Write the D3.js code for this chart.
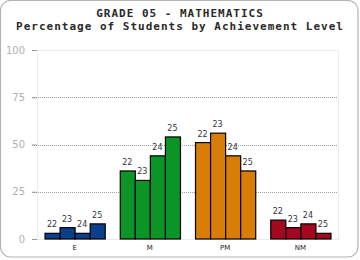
<!DOCTYPE html>
<html>
<head>
<meta charset="utf-8">
<script src="https://cdn.jsdelivr.net/npm/d3@7"></script>
<style>
  body { margin: 0; background: #fff; }
  svg { display: block; }
</style>
</head>
<body>
<div id="chart"></div>
<script>
const levels = ['E', 'M', 'PM', 'NM'];
const years = ['22', '23', '24', '25'];
const levelColors = ['#0b3f8c', '#0a9526', '#d97c08', '#a5071f'];
const pctE = [3, 6, 3, 8];
const pctM = [36, 31, 44, 54];
const pctPM = [51, 56, 44, 36];
const pctNM = [10, 6, 8, 3];
const yTicks = [0, 25, 50, 75, 100];
const titleLines = ['GRADE 05 - MATHEMATICS', 'Percentage of Students by Achievement Level'];

const seriesByLevel = [pctE, pctM, pctPM, pctNM];
const rows = [];
levels.forEach((lv, i) => {
  years.forEach((yr, j) => rows.push({ level: lv, year: yr, value: seriesByLevel[i][j], color: levelColors[i] }));
});

const width = 360, height = 260;
const margin = { top: 50, right: 22, bottom: 21, left: 37 };

const svg = d3.select('#chart').append('svg')
  .attr('width', width)
  .attr('height', height);

// frame
svg.append('rect')
  .attr('x', 0.5).attr('y', 0.5)
  .attr('width', width - 2.5).attr('height', height - 3.5)
  .attr('rx', 10).attr('ry', 10)
  .attr('fill', '#fff')
  .attr('stroke', '#b4b4b4')
  .attr('stroke-width', 1.2);

svg.append('g').selectAll('text')
  .data(titleLines)
  .join('text')
  .attr('x', width / 2)
  .attr('y', (d, i) => 17 + i * 13)
  .attr('text-anchor', 'middle')
  .attr('font-family', '"DejaVu Sans Mono", monospace')
  .attr('font-weight', 'bold')
  .attr('font-size', 11)
  .attr('letter-spacing', 1)
  .attr('fill', '#2a2a2a')
  .text(d => d);

const x = d3.scaleBand()
  .domain(levels)
  .range([margin.left, width - margin.right])
  .paddingInner(0.2)
  .paddingOuter(0.1);

const xYear = d3.scaleBand()
  .domain(years)
  .range([0, x.bandwidth()]);

const y = d3.scaleLinear()
  .domain([0, 100])
  .range([height - margin.bottom, margin.top]);

const x0 = margin.left, x1 = width - margin.right;

// plot box
svg.append('rect')
  .attr('x', x0 + 0.5).attr('y', y(100) + 0.5)
  .attr('width', x1 - x0).attr('height', y(0) - y(100))
  .attr('fill', 'none')
  .attr('stroke', '#ececec');

// grid
svg.append('g').selectAll('line')
  .data(yTicks.filter(t => t > 0 && t < 100))
  .join('line')
  .attr('x1', x0 - 5).attr('x2', x1)
  .attr('y1', d => Math.round(y(d)) + 0.5)
  .attr('y2', d => Math.round(y(d)) + 0.5)
  .attr('stroke', '#a0a0a0')
  .attr('stroke-dasharray', '1,1');

const yAxis = svg.append('g')
  .attr('transform', `translate(${x0},0)`)
  .call(d3.axisLeft(y).tickValues(yTicks).tickSize(5).tickPadding(7));
yAxis.select('.domain').remove();
yAxis.selectAll('line').attr('stroke', '#999');
yAxis.selectAll('text')
  .attr('fill', '#b0b0b0')
  .attr('font-family', '"DejaVu Sans", sans-serif')
  .attr('font-size', 10);

// bars
const bars = svg.append('g').selectAll('g')
  .data(rows)
  .join('g')
  .attr('transform', d => `translate(${x(d.level) + xYear(d.year)},0)`);

bars.append('rect')
  .attr('x', 0.5)
  .attr('y', d => y(d.value))
  .attr('width', xYear.bandwidth())
  .attr('height', d => y(0) - y(d.value))
  .attr('fill', d => d.color)
  .attr('stroke', '#000')
  .attr('stroke-width', 1.2);

bars.append('text')
  .attr('x', xYear.bandwidth() / 2)
  .attr('y', d => y(d.value) - 6)
  .attr('text-anchor', 'middle')
  .attr('font-family', '"DejaVu Sans", sans-serif')
  .attr('font-size', 8)
  .attr('fill', '#333')
  .text(d => d.year);

// category labels
svg.append('g').selectAll('text')
  .data(levels)
  .join('text')
  .attr('x', d => x(d) + x.bandwidth() / 2)
  .attr('y', height - margin.bottom + 11)
  .attr('text-anchor', 'middle')
  .attr('font-family', '"DejaVu Sans", sans-serif')
  .attr('font-size', 7)
  .attr('fill', '#222')
  .text(d => d);
</script>
</body>
</html>
